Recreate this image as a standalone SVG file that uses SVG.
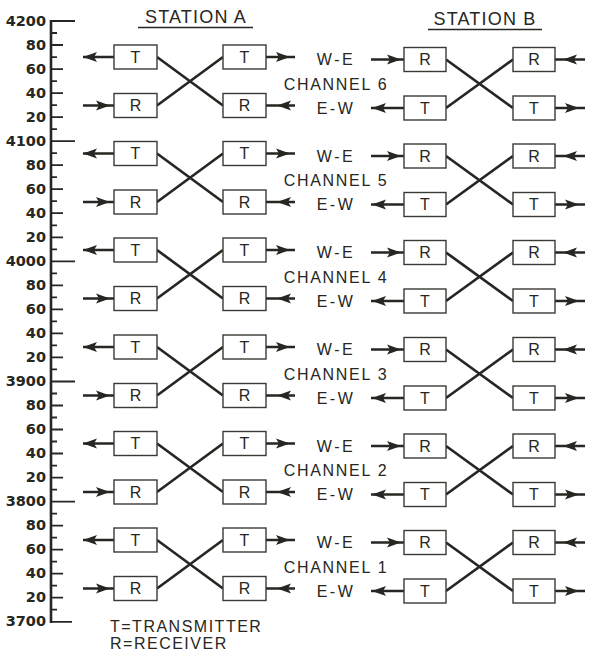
<svg xmlns="http://www.w3.org/2000/svg" xmlns:xlink="http://www.w3.org/1999/xlink" width="600" height="653" viewBox="0 0 600 653">
<style>
text{font-family:"Liberation Sans",Arial,sans-serif;fill:#262622}
.ax{font-family:"DejaVu Sans",sans-serif;font-weight:bold;font-size:14.5px;text-anchor:end}
.box rect{fill:#fff;stroke:#3a3a34;stroke-width:1.4}
.box text{font-size:16px;text-anchor:middle}
.lbl{font-size:16px;text-anchor:middle;letter-spacing:2.5px}
.ttl{font-size:18px;text-anchor:middle;letter-spacing:1.2px}
.leg{font-size:16px;letter-spacing:1.5px}
.ln{fill:none;stroke:#262622;stroke-linecap:butt}
.cross{stroke-width:2.7}
.arr{stroke-width:2.4}
.head{fill:#262622}
</style>
<defs>
<path id="hr" class="head" d="M0,0 L-14,-5 L-11,0 L-14,5 Z"/>
<path id="hl" class="head" d="M0,0 L14,-5 L11,0 L14,5 Z"/>
</defs>
<rect width="600" height="653" fill="#fff"/>
<g id="axis">
<path class="ln" stroke-width="2.6" d="M51 20V623"/>
<path class="ln" stroke-width="1.8" d="M51 21H75M51 141.2H75M51 261.3H75M51 381.5H75M51 501.6H75M51 621.8H72
M51 45H63M51 69.1H63M51 93.1H63M51 117.1H63M51 165.2H63M51 189.2H63M51 213.2H63M51 237.3H63M51 285.3H63M51 309.4H63M51 333.4H63M51 357.4H63M51 405.5H63M51 429.5H63M51 453.5H63M51 477.6H63M51 525.6H63M51 549.7H63M51 573.7H63M51 597.7H63
M51 33H57M51 57.1H57M51 81.1H57M51 105.1H57M51 129.1H57M51 153.2H57M51 177.2H57M51 201.2H57M51 225.3H57M51 249.3H57M51 273.3H57M51 297.4H57M51 321.4H57M51 345.4H57M51 369.4H57M51 393.5H57M51 417.5H57M51 441.5H57M51 465.6H57M51 489.6H57M51 513.6H57M51 537.7H57M51 561.7H57M51 585.7H57M51 609.7H57"/>
<text class="ax" x="46" y="26">4200</text>
<text class="ax" x="46" y="50">80</text>
<text class="ax" x="46" y="74">60</text>
<text class="ax" x="46" y="98">40</text>
<text class="ax" x="46" y="122">20</text>
<text class="ax" x="46" y="146">4100</text>
<text class="ax" x="46" y="170">80</text>
<text class="ax" x="46" y="194">60</text>
<text class="ax" x="46" y="218">40</text>
<text class="ax" x="46" y="242">20</text>
<text class="ax" x="46" y="266">4000</text>
<text class="ax" x="46" y="290">80</text>
<text class="ax" x="46" y="314">60</text>
<text class="ax" x="46" y="338">40</text>
<text class="ax" x="46" y="362">20</text>
<text class="ax" x="46" y="386">3900</text>
<text class="ax" x="46" y="410">80</text>
<text class="ax" x="46" y="434">60</text>
<text class="ax" x="46" y="458">40</text>
<text class="ax" x="46" y="482">20</text>
<text class="ax" x="46" y="506">3800</text>
<text class="ax" x="46" y="530">80</text>
<text class="ax" x="46" y="554">60</text>
<text class="ax" x="46" y="578">40</text>
<text class="ax" x="46" y="602">20</text>
<text class="ax" x="46" y="626">3700</text>
</g>
<g id="titles">
<text class="ttl" x="196" y="23">STATION A</text>
<path class="ln" stroke-width="1.6" d="M138 27.5H253"/>
<text class="ttl" x="485" y="24.5">STATION B</text>
<path class="ln" stroke-width="1.6" d="M428 29.5H542"/>
</g>
<g id="connectors">
<g id="conn-ch6">
<path class="ln cross" d="M157 57L223 105.5M157 105.5L223 57M446 59.5L513 108M446 108L513 59.5"/>
<path class="ln arr" d="M83 57H114M83 105.5H114M266 57H295M266 105.5H295M371 59.5H404M371 108H404M555 59.5H585M555 108H585"/>
<use xlink:href="#hl" x="83" y="57"/><use xlink:href="#hr" x="110" y="105.5"/><use xlink:href="#hr" x="290" y="57"/><use xlink:href="#hl" x="277" y="105.5"/>
<use xlink:href="#hr" x="401" y="59.5"/><use xlink:href="#hl" x="372" y="108"/><use xlink:href="#hl" x="563" y="59.5"/><use xlink:href="#hr" x="579" y="108"/>
</g>
<g id="conn-ch5" transform="translate(0,96.5)">
<path class="ln cross" d="M157 57L223 105.5M157 105.5L223 57M446 59.5L513 108M446 108L513 59.5"/>
<path class="ln arr" d="M83 57H114M83 105.5H114M266 57H295M266 105.5H295M371 59.5H404M371 108H404M555 59.5H585M555 108H585"/>
<use xlink:href="#hl" x="83" y="57"/><use xlink:href="#hr" x="110" y="105.5"/><use xlink:href="#hr" x="290" y="57"/><use xlink:href="#hl" x="277" y="105.5"/>
<use xlink:href="#hr" x="401" y="59.5"/><use xlink:href="#hl" x="372" y="108"/><use xlink:href="#hl" x="563" y="59.5"/><use xlink:href="#hr" x="579" y="108"/>
</g>
<g id="conn-ch4" transform="translate(0,193)">
<path class="ln cross" d="M157 57L223 105.5M157 105.5L223 57M446 59.5L513 108M446 108L513 59.5"/>
<path class="ln arr" d="M83 57H114M83 105.5H114M266 57H295M266 105.5H295M371 59.5H404M371 108H404M555 59.5H585M555 108H585"/>
<use xlink:href="#hl" x="83" y="57"/><use xlink:href="#hr" x="110" y="105.5"/><use xlink:href="#hr" x="290" y="57"/><use xlink:href="#hl" x="277" y="105.5"/>
<use xlink:href="#hr" x="401" y="59.5"/><use xlink:href="#hl" x="372" y="108"/><use xlink:href="#hl" x="563" y="59.5"/><use xlink:href="#hr" x="579" y="108"/>
</g>
<g id="conn-ch3" transform="translate(0,290)">
<path class="ln cross" d="M157 57L223 105.5M157 105.5L223 57M446 59.5L513 108M446 108L513 59.5"/>
<path class="ln arr" d="M83 57H114M83 105.5H114M266 57H295M266 105.5H295M371 59.5H404M371 108H404M555 59.5H585M555 108H585"/>
<use xlink:href="#hl" x="83" y="57"/><use xlink:href="#hr" x="110" y="105.5"/><use xlink:href="#hr" x="290" y="57"/><use xlink:href="#hl" x="277" y="105.5"/>
<use xlink:href="#hr" x="401" y="59.5"/><use xlink:href="#hl" x="372" y="108"/><use xlink:href="#hl" x="563" y="59.5"/><use xlink:href="#hr" x="579" y="108"/>
</g>
<g id="conn-ch2" transform="translate(0,386.5)">
<path class="ln cross" d="M157 57L223 105.5M157 105.5L223 57M446 59.5L513 108M446 108L513 59.5"/>
<path class="ln arr" d="M83 57H114M83 105.5H114M266 57H295M266 105.5H295M371 59.5H404M371 108H404M555 59.5H585M555 108H585"/>
<use xlink:href="#hl" x="83" y="57"/><use xlink:href="#hr" x="110" y="105.5"/><use xlink:href="#hr" x="290" y="57"/><use xlink:href="#hl" x="277" y="105.5"/>
<use xlink:href="#hr" x="401" y="59.5"/><use xlink:href="#hl" x="372" y="108"/><use xlink:href="#hl" x="563" y="59.5"/><use xlink:href="#hr" x="579" y="108"/>
</g>
<g id="conn-ch1" transform="translate(0,483)">
<path class="ln cross" d="M157 57L223 105.5M157 105.5L223 57M446 59.5L513 108M446 108L513 59.5"/>
<path class="ln arr" d="M83 57H114M83 105.5H114M266 57H295M266 105.5H295M371 59.5H404M371 108H404M555 59.5H585M555 108H585"/>
<use xlink:href="#hl" x="83" y="57"/><use xlink:href="#hr" x="110" y="105.5"/><use xlink:href="#hr" x="290" y="57"/><use xlink:href="#hl" x="277" y="105.5"/>
<use xlink:href="#hr" x="401" y="59.5"/><use xlink:href="#hl" x="372" y="108"/><use xlink:href="#hl" x="563" y="59.5"/><use xlink:href="#hr" x="579" y="108"/>
</g>
</g>
<g id="nodes">
<g id="ch6">
<g id="ch6-a-t1" class="box"><rect x="114" y="45" width="43" height="24"/><text x="135.5" y="62.8">T</text></g>
<g id="ch6-a-r1" class="box"><rect x="114" y="93.5" width="43" height="24"/><text x="135.5" y="111.3">R</text></g>
<g id="ch6-a-t2" class="box"><rect x="223" y="45" width="43" height="24"/><text x="244.5" y="62.8">T</text></g>
<g id="ch6-a-r2" class="box"><rect x="223" y="93.5" width="43" height="24"/><text x="244.5" y="111.3">R</text></g>
<g id="ch6-b-r1" class="box"><rect x="404" y="47.5" width="42" height="24"/><text x="425" y="65.3">R</text></g>
<g id="ch6-b-t1" class="box"><rect x="404" y="96" width="42" height="24"/><text x="425" y="113.8">T</text></g>
<g id="ch6-b-r2" class="box"><rect x="513" y="47.5" width="42" height="24"/><text x="534" y="65.3">R</text></g>
<g id="ch6-b-t2" class="box"><rect x="513" y="96" width="42" height="24"/><text x="534" y="113.8">T</text></g>
</g>
<g id="ch5" transform="translate(0,96.5)">
<g id="ch5-a-t1" class="box"><rect x="114" y="45" width="43" height="24"/><text x="135.5" y="62.8">T</text></g>
<g id="ch5-a-r1" class="box"><rect x="114" y="93.5" width="43" height="24"/><text x="135.5" y="111.3">R</text></g>
<g id="ch5-a-t2" class="box"><rect x="223" y="45" width="43" height="24"/><text x="244.5" y="62.8">T</text></g>
<g id="ch5-a-r2" class="box"><rect x="223" y="93.5" width="43" height="24"/><text x="244.5" y="111.3">R</text></g>
<g id="ch5-b-r1" class="box"><rect x="404" y="47.5" width="42" height="24"/><text x="425" y="65.3">R</text></g>
<g id="ch5-b-t1" class="box"><rect x="404" y="96" width="42" height="24"/><text x="425" y="113.8">T</text></g>
<g id="ch5-b-r2" class="box"><rect x="513" y="47.5" width="42" height="24"/><text x="534" y="65.3">R</text></g>
<g id="ch5-b-t2" class="box"><rect x="513" y="96" width="42" height="24"/><text x="534" y="113.8">T</text></g>
</g>
<g id="ch4" transform="translate(0,193)">
<g id="ch4-a-t1" class="box"><rect x="114" y="45" width="43" height="24"/><text x="135.5" y="62.8">T</text></g>
<g id="ch4-a-r1" class="box"><rect x="114" y="93.5" width="43" height="24"/><text x="135.5" y="111.3">R</text></g>
<g id="ch4-a-t2" class="box"><rect x="223" y="45" width="43" height="24"/><text x="244.5" y="62.8">T</text></g>
<g id="ch4-a-r2" class="box"><rect x="223" y="93.5" width="43" height="24"/><text x="244.5" y="111.3">R</text></g>
<g id="ch4-b-r1" class="box"><rect x="404" y="47.5" width="42" height="24"/><text x="425" y="65.3">R</text></g>
<g id="ch4-b-t1" class="box"><rect x="404" y="96" width="42" height="24"/><text x="425" y="113.8">T</text></g>
<g id="ch4-b-r2" class="box"><rect x="513" y="47.5" width="42" height="24"/><text x="534" y="65.3">R</text></g>
<g id="ch4-b-t2" class="box"><rect x="513" y="96" width="42" height="24"/><text x="534" y="113.8">T</text></g>
</g>
<g id="ch3" transform="translate(0,290)">
<g id="ch3-a-t1" class="box"><rect x="114" y="45" width="43" height="24"/><text x="135.5" y="62.8">T</text></g>
<g id="ch3-a-r1" class="box"><rect x="114" y="93.5" width="43" height="24"/><text x="135.5" y="111.3">R</text></g>
<g id="ch3-a-t2" class="box"><rect x="223" y="45" width="43" height="24"/><text x="244.5" y="62.8">T</text></g>
<g id="ch3-a-r2" class="box"><rect x="223" y="93.5" width="43" height="24"/><text x="244.5" y="111.3">R</text></g>
<g id="ch3-b-r1" class="box"><rect x="404" y="47.5" width="42" height="24"/><text x="425" y="65.3">R</text></g>
<g id="ch3-b-t1" class="box"><rect x="404" y="96" width="42" height="24"/><text x="425" y="113.8">T</text></g>
<g id="ch3-b-r2" class="box"><rect x="513" y="47.5" width="42" height="24"/><text x="534" y="65.3">R</text></g>
<g id="ch3-b-t2" class="box"><rect x="513" y="96" width="42" height="24"/><text x="534" y="113.8">T</text></g>
</g>
<g id="ch2" transform="translate(0,386.5)">
<g id="ch2-a-t1" class="box"><rect x="114" y="45" width="43" height="24"/><text x="135.5" y="62.8">T</text></g>
<g id="ch2-a-r1" class="box"><rect x="114" y="93.5" width="43" height="24"/><text x="135.5" y="111.3">R</text></g>
<g id="ch2-a-t2" class="box"><rect x="223" y="45" width="43" height="24"/><text x="244.5" y="62.8">T</text></g>
<g id="ch2-a-r2" class="box"><rect x="223" y="93.5" width="43" height="24"/><text x="244.5" y="111.3">R</text></g>
<g id="ch2-b-r1" class="box"><rect x="404" y="47.5" width="42" height="24"/><text x="425" y="65.3">R</text></g>
<g id="ch2-b-t1" class="box"><rect x="404" y="96" width="42" height="24"/><text x="425" y="113.8">T</text></g>
<g id="ch2-b-r2" class="box"><rect x="513" y="47.5" width="42" height="24"/><text x="534" y="65.3">R</text></g>
<g id="ch2-b-t2" class="box"><rect x="513" y="96" width="42" height="24"/><text x="534" y="113.8">T</text></g>
</g>
<g id="ch1" transform="translate(0,483)">
<g id="ch1-a-t1" class="box"><rect x="114" y="45" width="43" height="24"/><text x="135.5" y="62.8">T</text></g>
<g id="ch1-a-r1" class="box"><rect x="114" y="93.5" width="43" height="24"/><text x="135.5" y="111.3">R</text></g>
<g id="ch1-a-t2" class="box"><rect x="223" y="45" width="43" height="24"/><text x="244.5" y="62.8">T</text></g>
<g id="ch1-a-r2" class="box"><rect x="223" y="93.5" width="43" height="24"/><text x="244.5" y="111.3">R</text></g>
<g id="ch1-b-r1" class="box"><rect x="404" y="47.5" width="42" height="24"/><text x="425" y="65.3">R</text></g>
<g id="ch1-b-t1" class="box"><rect x="404" y="96" width="42" height="24"/><text x="425" y="113.8">T</text></g>
<g id="ch1-b-r2" class="box"><rect x="513" y="47.5" width="42" height="24"/><text x="534" y="65.3">R</text></g>
<g id="ch1-b-t2" class="box"><rect x="513" y="96" width="42" height="24"/><text x="534" y="113.8">T</text></g>
</g>
</g>
<g id="labels">
<g><text class="lbl" x="336" y="65">W-E</text><text class="lbl" x="336" y="89.5" style="letter-spacing:1.7px">CHANNEL 6</text><text class="lbl" x="336" y="113.5">E-W</text></g>
<g transform="translate(0,96.5)"><text class="lbl" x="336" y="65">W-E</text><text class="lbl" x="336" y="89.5" style="letter-spacing:1.7px">CHANNEL 5</text><text class="lbl" x="336" y="113.5">E-W</text></g>
<g transform="translate(0,193)"><text class="lbl" x="336" y="65">W-E</text><text class="lbl" x="336" y="89.5" style="letter-spacing:1.7px">CHANNEL 4</text><text class="lbl" x="336" y="113.5">E-W</text></g>
<g transform="translate(0,290)"><text class="lbl" x="336" y="65">W-E</text><text class="lbl" x="336" y="89.5" style="letter-spacing:1.7px">CHANNEL 3</text><text class="lbl" x="336" y="113.5">E-W</text></g>
<g transform="translate(0,386.5)"><text class="lbl" x="336" y="65">W-E</text><text class="lbl" x="336" y="89.5" style="letter-spacing:1.7px">CHANNEL 2</text><text class="lbl" x="336" y="113.5">E-W</text></g>
<g transform="translate(0,483)"><text class="lbl" x="336" y="65">W-E</text><text class="lbl" x="336" y="89.5" style="letter-spacing:1.7px">CHANNEL 1</text><text class="lbl" x="336" y="113.5">E-W</text></g>
</g>
<g id="legend">
<text class="leg" x="110" y="632">T=TRANSMITTER</text>
<text class="leg" x="110" y="649">R=RECEIVER</text>
</g>
</svg>
